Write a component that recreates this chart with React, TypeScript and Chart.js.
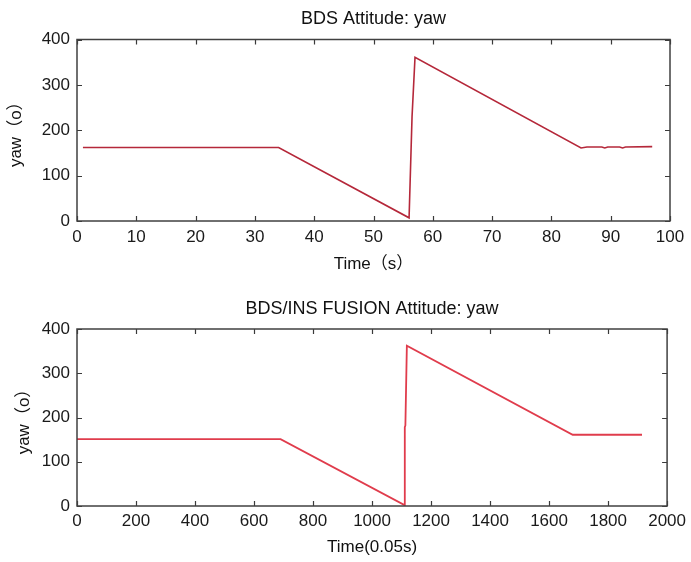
import React, { useEffect, useRef } from 'react';
import { Chart, registerables } from 'chart.js';

Chart.register(...registerables);

const FONT = "'Liberation Sans', 'Noto Sans CJK SC', Arial, sans-serif";

// ---- text ----
const topTitle = 'BDS Attitude: yaw';
const bottomTitle = 'BDS/INS FUSION Attitude: yaw';
const yAxisLabel = 'yaw（o）';
const topXLabel = 'Time（s）';
const bottomXLabel = 'Time(0.05s)';

// ---- tick labels ----
const yTicks = [0, 100, 200, 300, 400];
const topXTicks = [0, 10, 20, 30, 40, 50, 60, 70, 80, 90, 100];
const bottomXTicks = [0, 200, 400, 600, 800, 1000, 1200, 1400, 1600, 1800, 2000];

// ---- series ----
const topTime = [1, 34, 56, 56.5, 57, 85, 86, 88.5, 89, 89.5, 91.5, 92, 92.5, 97];
const topYaw = [162, 162, 7, 230, 361, 161, 163, 163, 161, 163, 163, 161, 163, 164];

const bottomTime = [0, 690, 1110, 1111, 1113, 1118, 1680, 1915];
const bottomYaw = [151, 151, 2, 178, 182, 362, 161, 161];

const boxPlugin = {
  id: 'matlabBox',
  afterDatasetsDraw(chart: any) {
    const { ctx, chartArea: a, scales } = chart;
    const xs = scales.x;
    const ys = scales.y;
    const len = 5;
    ctx.save();
    ctx.strokeStyle = '#3a3a3a';
    ctx.lineWidth = 1.2;
    ctx.beginPath();
    xs.ticks.forEach((t: any) => {
      const px = Math.round(xs.getPixelForValue(t.value)) + 0.5;
      ctx.moveTo(px, a.bottom);
      ctx.lineTo(px, a.bottom - len);
      ctx.moveTo(px, a.top);
      ctx.lineTo(px, a.top + len);
    });
    ys.ticks.forEach((t: any) => {
      const py = Math.round(ys.getPixelForValue(t.value)) + 0.5;
      ctx.moveTo(a.left, py);
      ctx.lineTo(a.left + len, py);
      ctx.moveTo(a.right, py);
      ctx.lineTo(a.right - len, py);
    });
    ctx.stroke();
    ctx.lineWidth = 1.5;
    ctx.strokeStyle = '#404040';
    ctx.strokeRect(a.left, a.top, a.right - a.left, a.bottom - a.top);
    ctx.restore();
  },
};

type PanelProps = {
  width: number;
  height: number;
  top: number;
  title: string;
  titlePadTop: number;
  titlePadBottom: number;
  xLabel: string;
  xLabelPad: number;
  yLabelPad: number;
  xTicks: number[];
  xs: number[];
  ys: number[];
  color: string;
  lineWidth: number;
  xAxisHeight: number;
  tickPad: number;
};

function Panel(p: PanelProps) {
  const ref = useRef<HTMLCanvasElement>(null);
  useEffect(() => {
    if (!ref.current) return;
    const points = p.xs.map((x, i) => ({ x, y: p.ys[i] }));
    const chart = new Chart(ref.current, {
      type: 'line',
      data: {
        datasets: [
          {
            data: points,
            borderColor: p.color,
            borderWidth: p.lineWidth,
            pointRadius: 0,
            tension: 0,
            fill: false,
          },
        ],
      },
      plugins: [boxPlugin],
      options: {
        responsive: false,
        animation: false,
        events: [],
        layout: { padding: { left: 0, right: 21, top: 0, bottom: 0 } },
        plugins: {
          legend: { display: false },
          tooltip: { enabled: false },
          title: {
            display: true,
            text: p.title,
            fullSize: false,
            color: '#111',
            font: { family: FONT, size: 18, weight: 'normal' },
            padding: { top: p.titlePadTop, bottom: p.titlePadBottom },
          },
        },
        scales: {
          x: {
            type: 'linear',
            min: p.xTicks[0],
            max: p.xTicks[p.xTicks.length - 1],
            afterBuildTicks: (s: any) => {
              s.ticks = p.xTicks.map((v) => ({ value: v }));
            },
            afterFit: (s: any) => {
              s.height = p.xAxisHeight;
            },
            grid: { display: false, drawTicks: false },
            border: { display: false },
            ticks: {
              autoSkip: false,
              maxRotation: 0,
              padding: p.tickPad,
              color: '#1a1a1a',
              font: { family: FONT, size: 17 },
              callback: (v: any) => String(v),
            },
            title: {
              display: true,
              text: p.xLabel,
              color: '#111',
              font: { family: FONT, size: 17 },
              padding: { top: 0, bottom: p.xLabelPad },
            },
          },
          y: {
            type: 'linear',
            min: yTicks[0],
            max: yTicks[yTicks.length - 1],
            afterBuildTicks: (s: any) => {
              s.ticks = yTicks.map((v) => ({ value: v }));
            },
            afterFit: (s: any) => {
              s.width = 77;
            },
            grid: { display: false, drawTicks: false },
            border: { display: false },
            ticks: {
              autoSkip: false,
              padding: 7,
              color: '#1a1a1a',
              font: { family: FONT, size: 17 },
              callback: (v: any) => String(v),
            },
            title: {
              display: true,
              text: yAxisLabel,
              color: '#111',
              font: { family: FONT, size: 17 },
              padding: { top: p.yLabelPad, bottom: 0 },
            },
          },
        },
      } as any,
    });
    return () => chart.destroy();
  }, []);
  return (
    <canvas
      ref={ref}
      width={p.width}
      height={p.height}
      style={{ position: 'absolute', left: 0, top: p.top, display: 'block' }}
    />
  );
}

export default function App() {
  return (
    <div
      style={{
        position: 'absolute',
        left: 0,
        top: 0,
        width: 691,
        height: 562,
        background: '#ffffff',
        overflow: 'hidden',
      }}
    >
      <Panel
        width={691}
        height={280}
        top={0}
        title={topTitle}
        titlePadTop={8.7}
        titlePadBottom={9.2}
        xLabel={topXLabel}
        xLabelPad={5}
        yLabelPad={6}
        xTicks={topXTicks}
        xs={topTime}
        ys={topYaw}
        color="#b5283a"
        lineWidth={1.6}
        xAxisHeight={59}
        tickPad={6}
      />
      <Panel
        width={691}
        height={282}
        top={280}
        title={bottomTitle}
        titlePadTop={18}
        titlePadBottom={9.4}
        xLabel={bottomXLabel}
        xLabelPad={4}
        yLabelPad={14}
        xTicks={bottomXTicks}
        xs={bottomTime}
        ys={bottomYaw}
        color="#e03c4c"
        lineWidth={1.8}
        xAxisHeight={56}
        tickPad={5}
      />
    </div>
  );
}
